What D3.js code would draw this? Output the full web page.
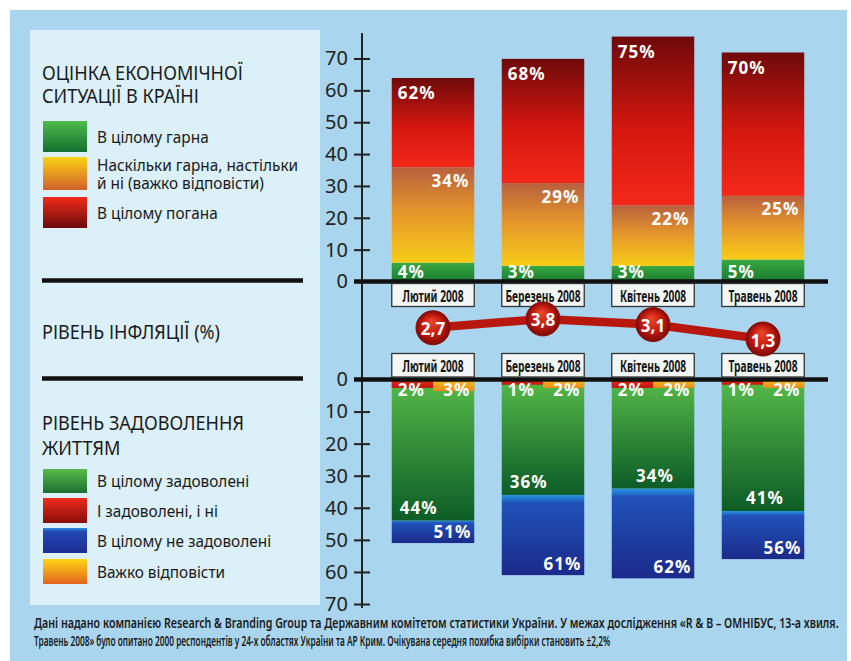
<!DOCTYPE html>
<html>
<head>
<meta charset="utf-8">
<script src="https://cdn.jsdelivr.net/npm/d3@7"></script>
<style>
  body { margin: 0; background: #fff; }
  svg { display: block; }
</style>
</head>
<body>
<div id="vis"></div>
<script>
// data
const months = ["Лютий 2008", "Березень 2008", "Квітень 2008", "Травень 2008"];

// economic situation (%)
const econGood = [4, 3, 3, 5];
const econMixed = [34, 29, 22, 25];
const econBad = [62, 68, 75, 70];

// inflation (%)
const inflation = [2.7, 3.8, 3.1, 1.3];

// life satisfaction (%)
const lifeYes = [44, 36, 34, 41];
const lifeMixed = [2, 1, 2, 1];
const lifeNo = [51, 61, 62, 56];
const lifeHard = [3, 2, 2, 2];

const axisTicks = [0, 10, 20, 30, 40, 50, 60, 70];

const econLegend = [
  { lines: ["В цілому гарна"], grad: "lgGood" },
  { lines: ["Наскільки гарна, настільки", "й ні (важко відповісти)"], grad: "lgMixed" },
  { lines: ["В цілому погана"], grad: "lgBad" },
];
const lifeLegend = [
  { lines: ["В цілому задоволені"], grad: "lgYes" },
  { lines: ["І задоволені, і ні"], grad: "lgRed" },
  { lines: ["В цілому не задоволені"], grad: "lgNo" },
  { lines: ["Важко відповісти"], grad: "lgHard" },
];

const footnote = [
  "Дані надано компанією Research & Branding Group та Державним комітетом статистики України. У межах дослідження «R & B – ОМНІБУС, 13-а хвиля.",
  "Травень 2008» було опитано 2000 респондентів у 24-х областях України та АР Крим. Очікувана середня похибка вибірки становить ±2,2%",
];

const FONT = "'Noto Sans', 'Open Sans', sans-serif";
const W = 851, H = 661;

let svg = d3.select("#vis").append("svg").attr("width", W).attr("height", H);

// gradients
const defs = svg.append("defs");
function gradient(id, stops) {
  let g = defs.append("linearGradient").attr("id", id)
    .attr("x1", 0).attr("y1", 0).attr("x2", 0).attr("y2", 1);
  stops.forEach(s => g.append("stop").attr("offset", s[0]).attr("stop-color", s[1]));
}
gradient("gGood", [[0, "#3aa942"], [1, "#177a2f"]]);
gradient("gMixed", [[0, "#b8603e"], [0.45, "#e3942c"], [1, "#f8cd17"]]);
gradient("gBad", [[0, "#6e0a0a"], [0.55, "#d4170f"], [1, "#f3281a"]]);
gradient("gYes", [[0, "#55ba48"], [1, "#0d5c27"]]);
gradient("gNo", [[0, "#2596e2"], [0.1, "#2052b9"], [1, "#1b2a8a"]]);
gradient("gRed", [[0, "#ec2b1c"], [1, "#c2150e"]]);
gradient("gHard", [[0, "#f7bc1e"], [1, "#ec8a1c"]]);
gradient("lgGood", [[0, "#4dbb4a"], [1, "#137030"]]);
gradient("lgMixed", [[0, "#fcd415"], [1, "#d0602a"]]);
gradient("lgBad", [[0, "#f22a1a"], [1, "#6c0b0a"]]);
gradient("lgYes", [[0, "#58bb4a"], [1, "#1a7030"]]);
gradient("lgRed", [[0, "#ef2b1c"], [1, "#8a0d0a"]]);
gradient("lgNo", [[0, "#2a8ee0"], [0.15, "#2049b3"], [1, "#1d2d92"]]);
gradient("lgHard", [[0, "#fcd415"], [1, "#e4641e"]]);

let ball = defs.append("radialGradient").attr("id", "ball")
  .attr("cx", 0.5).attr("cy", 0.5).attr("r", 0.5).attr("fx", 0.45).attr("fy", 0.3);
ball.append("stop").attr("offset", 0).attr("stop-color", "#ea4a2c");
ball.append("stop").attr("offset", 0.6).attr("stop-color", "#c41b10");
ball.append("stop").attr("offset", 1).attr("stop-color", "#7c0a06");

// squeeze text horizontally, the print face is narrower than the installed ones
function condense(sel, k) {
  sel.each(function () {
    const w = this.getComputedTextLength();
    d3.select(this).attr("textLength", w * k).attr("lengthAdjust", "spacingAndGlyphs");
  });
}

// backgrounds
svg.append("rect").attr("x", 10).attr("y", 10).attr("width", 837).attr("height", 651).attr("fill", "#a9d6ee");
svg.append("rect").attr("x", 30).attr("y", 30).attr("width", 290).attr("height", 575).attr("fill", "#dbf0f9");

// scales
const axisX = 362;
let x = d3.scaleBand().domain(months).range([378, 818]).paddingInner(0.25).paddingOuter(0.125);
let yTop = d3.scaleLinear().domain([0, 70]).range([281.5, 58.5]);
let yBot = d3.scaleLinear().domain([0, 70]).range([379.5, 604]);
let yInf = d3.scaleLinear().domain([0, 4]).range([349.5, 317.3]);
const lift = 6; // top bars rise a little above their axis values in the print

// ---- top chart: layered bars ----
let topData = months.map((m, i) => ({
  m, good: econGood[i], mixed: econMixed[i], bad: econBad[i]
}));
let topG = svg.append("g");
topData.forEach(d => {
  const segs = [
    { y0: yTop(0), y1: yTop(d.good) - lift, fill: "url(#gGood)" },
    { y0: yTop(d.good) - lift, y1: yTop(d.mixed) - lift, fill: "url(#gMixed)" },
    { y0: yTop(d.mixed) - lift, y1: yTop(d.bad) - lift, fill: "url(#gBad)" },
  ];
  topG.selectAll(null).data(segs).join("rect")
    .attr("x", x(d.m)).attr("width", x.bandwidth())
    .attr("y", s => s.y1).attr("height", s => s.y0 - s.y1)
    .attr("fill", s => s.fill);
});

function barLabel(g, xx, yy, anchor, txt) {
  g.append("text").attr("x", xx).attr("y", yy)
    .attr("text-anchor", anchor).attr("dominant-baseline", "central")
    .attr("font-family", FONT).attr("font-weight", 700).attr("font-size", 17)
    .attr("letter-spacing", 1).attr("fill", "#fff").text(txt + "%");
}
topData.forEach(d => {
  const l = x(d.m), r = x(d.m) + x.bandwidth();
  barLabel(topG, l + 6, yTop(d.bad) - lift + 15, "start", d.bad);
  barLabel(topG, r - 5, yTop(d.mixed) - lift + 13, "end", d.mixed);
  barLabel(topG, l + 6, yTop(0) - 10, "start", d.good);
});

// ---- bottom chart ----
let botData = months.map((m, i) => ({
  m, yes: lifeYes[i], mixed: lifeMixed[i], no: lifeNo[i], hard: lifeHard[i]
}));
let botG = svg.append("g");
botData.forEach(d => {
  const l = x(d.m), bw = x.bandwidth();
  botG.append("rect").attr("x", l).attr("width", bw)
    .attr("y", yBot(d.yes)).attr("height", yBot(d.no) - yBot(d.yes)).attr("fill", "url(#gNo)");
  botG.append("rect").attr("x", l).attr("width", bw)
    .attr("y", yBot(0)).attr("height", yBot(d.yes) - yBot(0)).attr("fill", "url(#gYes)");
  botG.append("rect").attr("x", l).attr("width", bw / 2)
    .attr("y", yBot(0)).attr("height", yBot(d.mixed) - yBot(0) + 2).attr("fill", "url(#gRed)");
  botG.append("rect").attr("x", l + bw / 2).attr("width", bw / 2)
    .attr("y", yBot(0)).attr("height", yBot(d.hard) - yBot(0) + 2).attr("fill", "url(#gHard)");
});
const yesAnchor = ["start", "start", "middle", "middle"];
botData.forEach((d, i) => {
  const l = x(d.m), bw = x.bandwidth(), r = l + bw;
  barLabel(botG, l + 6, yBot(0) + 10, "start", d.mixed);
  barLabel(botG, r - 4, yBot(0) + 10, "end", d.hard);
  barLabel(botG, yesAnchor[i] === "start" ? l + 8 : l + bw / 2 + 2, yBot(d.yes) - 13, yesAnchor[i], d.yes);
  barLabel(botG, r - 3, yBot(d.no) - 12, "end", d.no);
});

// ---- axes ----
svg.append("line").attr("x1", axisX).attr("x2", axisX).attr("y1", 33).attr("y2", 608)
  .attr("stroke", "#222").attr("stroke-width", 2);
function drawAxis(scale) {
  let g = svg.append("g").attr("transform", `translate(${axisX},0)`)
    .call(d3.axisLeft(scale).tickValues(axisTicks).tickSize(8).tickPadding(6));
  g.select(".domain").remove();
  g.selectAll(".tick line").attr("x1", 8).attr("stroke", "#222").attr("stroke-width", 2);
  g.selectAll(".tick text").attr("font-family", FONT).attr("font-size", 20).attr("fill", "#222");
}
drawAxis(yTop);
drawAxis(yBot);

// thick zero lines and panel separators
[yTop(0), yBot(0)].forEach(yy => {
  svg.append("line").attr("x1", 354).attr("x2", 828).attr("y1", yy).attr("y2", yy)
    .attr("stroke", "#111").attr("stroke-width", 4.5);
  svg.append("line").attr("x1", 42).attr("x2", 303).attr("y1", yy - 1).attr("y2", yy - 1)
    .attr("stroke", "#111").attr("stroke-width", 4.5);
});

// month boxes
function monthBoxes(y0, h) {
  let g = svg.append("g").selectAll("g").data(months).join("g");
  g.append("rect").attr("x", d => x(d)).attr("y", y0).attr("width", x.bandwidth()).attr("height", h)
    .attr("fill", "#f2f6f6").attr("stroke", "#333").attr("stroke-width", 1.3);
  g.append("text").attr("x", d => x(d) + x.bandwidth() / 2).attr("y", y0 + h / 2 + 1)
    .attr("text-anchor", "middle").attr("dominant-baseline", "central")
    .attr("font-family", FONT).attr("font-weight", 700).attr("font-size", 15.5)
    .attr("fill", "#151515").text(d => d)
    .call(condense, 0.66);
}
monthBoxes(yTop(0) + 2, 23);
monthBoxes(yBot(0) - 26, 23.5);

// ---- inflation line ----
const ruLocale = d3.formatLocale({ decimal: ",", thousands: " ", grouping: [3], currency: ["", ""] });
const fmt = ruLocale.format(".1f");
let infData = months.map((m, i) => ({ m, v: inflation[i] }));
let cx = d => x(d.m) + x.bandwidth() / 2;
svg.append("path").datum(infData)
  .attr("d", d3.line().x(cx).y(d => yInf(d.v)))
  .attr("fill", "none").attr("stroke", "#b8170e").attr("stroke-width", 8.5);
let dots = svg.append("g").selectAll("g").data(infData).join("g")
  .attr("transform", d => `translate(${cx(d)},${yInf(d.v)})`);
dots.append("circle").attr("r", 17).attr("fill", "url(#ball)").attr("stroke", "#8a0c07").attr("stroke-width", 1);
dots.append("text").attr("text-anchor", "middle").attr("dominant-baseline", "central").attr("y", 1)
  .attr("font-family", FONT).attr("font-weight", 700).attr("font-size", 17)
  .attr("fill", "#fff").text(d => fmt(d.v));

// ---- left panel texts ----
function title(lines, y0, dy) {
  svg.append("g").selectAll("text").data(lines).join("text")
    .attr("x", 42).attr("y", (d, i) => y0 + i * dy)
    .attr("font-family", FONT).attr("font-size", 19).attr("fill", "#1a1a1a")
    .text(d => d)
    .call(condense, 0.95);
}
title(["ОЦІНКА ЕКОНОМІЧНОЇ", "СИТУАЦІЇ В КРАЇНІ"], 80, 23);
title(["РІВЕНЬ ІНФЛЯЦІЇ (%)"], 339, 0);
title(["РІВЕНЬ ЗАДОВОЛЕННЯ", "ЖИТТЯМ"], 430, 25);

function legend(items, ys, hs) {
  items.forEach((it, i) => {
    svg.append("rect").attr("x", 43).attr("y", ys[i]).attr("width", 44).attr("height", hs[i])
      .attr("fill", `url(#${it.grad})`);
    const mid = ys[i] + hs[i] / 2;
    const n = it.lines.length;
    svg.append("g").selectAll("text").data(it.lines).join("text")
      .attr("x", 97).attr("y", (d, j) => mid + (j - (n - 1) / 2) * 18)
      .attr("dominant-baseline", "central")
      .attr("font-family", FONT).attr("font-size", 16).attr("fill", "#1a1a1a")
      .text(d => d)
      .call(condense, 0.96);
  });
}
legend(econLegend, [121, 157, 197], [31, 33, 31]);
legend(lifeLegend, [469, 498, 528, 559], [24, 25, 25, 25]);

// footnote, squeezed to the printed line widths
const noteWidths = [805, 577];
svg.append("g").selectAll("text").data(footnote).join("text")
  .attr("font-family", FONT).attr("font-weight", 600).attr("font-size", 13.5)
  .attr("fill", "#1a1a1a")
  .text(d => d)
  .each(function (d, i) {
    const k = noteWidths[i] / this.getComputedTextLength();
    d3.select(this).attr("transform", `translate(34,${628 + i * 18}) scale(${k},1)`);
  });
</script>
</body>
</html>
